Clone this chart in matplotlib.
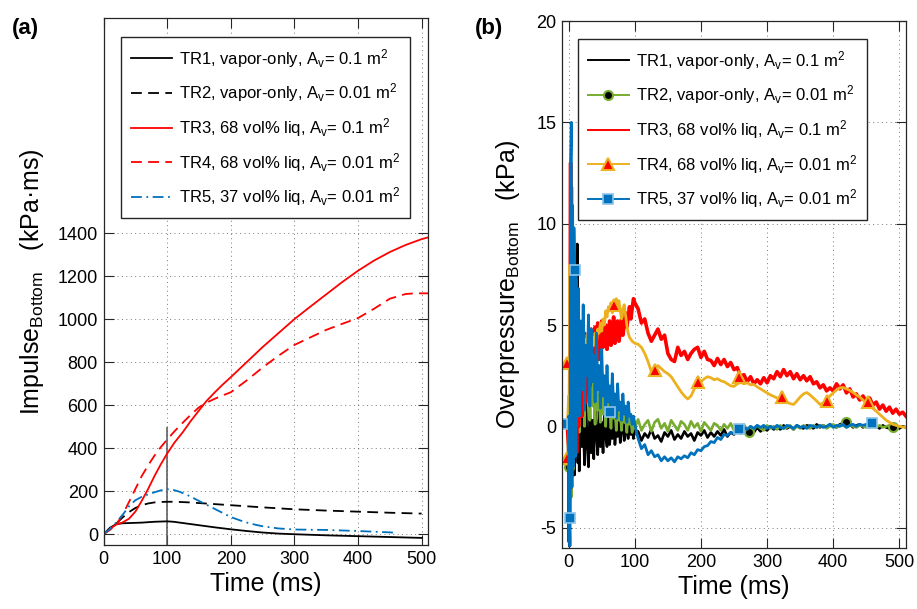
import numpy as np
import matplotlib
matplotlib.use('Agg')
import matplotlib.pyplot as plt
from matplotlib.lines import Line2D

plt.rcParams['font.family'] = ['Liberation Sans', 'DejaVu Sans']
plt.rcParams['mathtext.fontset'] = 'custom'
plt.rcParams['mathtext.rm'] = 'Liberation Sans'
plt.rcParams['mathtext.it'] = 'Liberation Sans:italic'
plt.rcParams['mathtext.bf'] = 'Liberation Sans:bold'
plt.rcParams['axes.unicode_minus'] = False

labels = [r'TR1, vapor-only, A$_\mathrm{v}$= 0.1 m$^2$',
          r'TR2, vapor-only, A$_\mathrm{v}$= 0.01 m$^2$',
          r'TR3, 68 vol% liq, A$_\mathrm{v}$= 0.1 m$^2$',
          r'TR4, 68 vol% liq, A$_\mathrm{v}$= 0.01 m$^2$',
          r'TR5, 37 vol% liq, A$_\mathrm{v}$= 0.01 m$^2$']

# ---- panel (a): impulse (kPa*ms) vs time (ms)
a1_t = [0, 10, 20, 30, 40, 50, 60, 70, 80, 90, 100, 110, 125, 150, 175, 200, 225, 250, 275, 300, 350, 400, 450, 500]
a1_v = [0, 30, 47, 51, 52, 53, 54, 56, 58, 59, 60, 58, 52, 42, 32, 23, 15, 8, 3, 0, -5, -9, -13, -17]
a2_t = [0, 10, 20, 30, 40, 50, 60, 70, 80, 90, 100, 110, 120, 135, 150, 175, 200, 250, 300, 350, 400, 450, 500]
a2_v = [0, 25, 50, 78, 103, 122, 135, 143, 148, 150, 151, 151, 150, 148, 145, 140, 135, 125, 116, 110, 105, 100, 96]
a3_t = [0, 10, 20, 30, 40, 50, 60, 70, 80, 90, 100, 112, 125, 137, 150, 162, 175, 187, 200,
        225, 250, 275, 300, 325, 350, 375, 400, 425, 450, 475, 500, 510]
a3_v = [0, 25, 45, 55, 72, 105, 155, 210, 270, 325, 375, 428, 476, 526, 575, 620, 660, 695, 730,
        800, 870, 935, 1000, 1058, 1115, 1172, 1225, 1272, 1312, 1345, 1372, 1380]
a4_t = [0, 10, 20, 30, 40, 50, 60, 70, 80, 90, 100, 112, 125, 137, 150, 162, 175, 187, 200,
        225, 250, 275, 300, 325, 350, 375, 400, 425, 450, 475, 490, 510]
a4_v = [0, 20, 45, 90, 150, 210, 270, 320, 365, 405, 440, 480, 520, 555, 590, 612, 630, 645, 660,
        715, 775, 830, 880, 915, 950, 978, 1005, 1048, 1095, 1117, 1120, 1120]
a5_t = [0, 10, 20, 30, 40, 50, 60, 70, 80, 90, 100, 110, 120, 130, 140, 150, 160, 170, 180, 190,
        200, 215, 230, 250, 275, 300, 350, 400, 455]
a5_v = [0, 25, 55, 90, 130, 158, 174, 185, 195, 204, 209, 206, 197, 185, 170, 155, 140, 125, 110, 95,
        80, 64, 50, 37, 27, 22, 20, 15, 8]
a_mark_t = 100
a_mark_top = 500

# ---- panel (b): overpressure (kPa) vs time (ms)
t_early = [-10, -2, 0, 1, 2, 3, 4, 5, 6, 7, 8, 9, 10, 11, 12, 13, 14, 15, 16,
           18, 20, 22, 24, 26, 28, 30, 32, 34, 36, 38, 40, 42, 44, 46, 48, 50,
           52, 54, 56, 58, 60, 62, 64, 66, 68, 70, 72, 74, 76, 78, 80, 82, 84,
           86, 88, 90, 92, 94, 96, 98, 100]
t_late = [105, 110, 115, 120, 125, 130, 135, 140, 145, 150, 155, 160, 165, 170,
          175, 180, 185, 190, 195, 200, 205, 210, 215, 220, 225, 230, 235, 240,
          245, 250, 255, 260, 265, 270, 275, 280, 285, 290, 295, 300, 305, 310,
          315, 320, 325, 330, 335, 340, 345, 350, 355, 360, 365, 370, 375, 380,
          385, 390, 395, 400, 405, 410, 415, 420, 425, 430, 435, 440, 445, 450,
          455, 460, 465, 470, 475, 480, 485, 490, 495, 500, 505, 510]

b1_early = [0, 0, -0.5, -5.9, 2.5, -3.0, 4.0, -2.5, 3.0, -1.2, 2.5, -2.4, 1.0, -1.5, 2.8, 9.0, -1.8, 0.6, -2.2,
            1.4, -1.0, 0.4, -1.9, 1.3, -0.8, -2.0, 0.9, -1.3, 0.3, -1.6, 1.0, -0.4, -1.4, 0.8, -1.0, 0.2,
            -1.3, 0.6, -0.5, -1.0, 0.4, -0.9, 0.1, -0.6, 0.5, -0.9, 0.0, -0.5, 0.3, -0.8, -0.1, 0.2, -0.7,
            0.1, -0.3, -0.6, 0.1, -0.4, -0.1, -0.6, -0.2]
b1_late = [-0.25, -0.7, -0.35, -0.55, -0.15, -0.6, -0.45, -0.75, -0.3, -0.5, -0.2, -0.65, -0.4, -0.6,
           -0.25, -0.5, -0.35, -0.7, -0.3, -0.45, -0.2, -0.55, -0.3, -0.5, -0.25, -0.45, -0.15, -0.5,
           -0.3, -0.4, -0.2, -0.35, -0.15, -0.3, -0.1, -0.3, -0.05, -0.25, -0.1, -0.2, 0.0, -0.15,
           -0.05, -0.15, 0.05, -0.1, 0.0, -0.15, 0.05, -0.05, -0.1, 0.05, 0.0, -0.1, 0.1, -0.05,
           0.05, -0.05, 0.1, 0.0, -0.05, 0.1, 0.15, 0.0, 0.1, -0.05, 0.05, 0.1, -0.05, 0.05,
           -0.05, 0.05, 0.0, -0.1, 0.05, -0.05, -0.1, 0.0, -0.05, -0.1, 0.0, -0.05]
b2_early = [0, 0, -2.0, 3.0, -4.8, 6.0, -3.5, 11.8, -2.0, 7.0, -1.0, 4.0, 0.5, 7.3, -0.5, 5.0, 1.5, 3.5, -0.3,
            5.0, 1.0, 3.2, 0.0, 4.2, 1.2, 2.5, 0.3, 3.4, 1.0, 2.0, 0.1, 2.8, 0.8, 1.6, 0.2, 2.3,
            0.6, 1.4, 0.0, 1.8, 0.5, 1.0, -0.1, 1.4, 0.4, 0.8, -0.2, 1.1, 0.3, 0.6, -0.2, 0.9, 0.2,
            0.5, -0.3, 0.7, 0.1, 0.3, -0.3, 0.5, -0.1]
b2_late = [0.35, -0.2, 0.1, 0.3, -0.25, 0.2, 0.35, -0.1, 0.15, -0.25, 0.3, 0.05, -0.2, 0.25,
           0.1, -0.2, 0.25, -0.05, 0.15, -0.25, 0.2, 0.0, -0.2, 0.15, 0.05, -0.2, 0.1, -0.1,
           0.15, -0.2, 0.05, -0.15, 0.1, -0.25, 0.0, -0.15, 0.05, -0.1, -0.2, 0.05, -0.1, 0.0,
           -0.15, 0.05, -0.1, -0.05, 0.05, -0.15, 0.0, -0.1, 0.05, -0.05, -0.1, 0.05, -0.05, 0.0,
           0.05, -0.1, 0.0, 0.1, -0.05, 0.05, 0.1, -0.05, 0.05, 0.0, -0.05, 0.05, 0.0, -0.05,
           0.05, 0.0, -0.05, 0.05, -0.05, 0.0, 0.05, -0.05, 0.0]
b3_early = [0, 0, -1.0, -5.7, 4.0, 13.0, -3.0, 6.5, -1.5, 3.0, 5.5, -0.5, 2.0, 5.0, -1.3, 3.5, 5.2, 0.0, 2.5,
            4.8, 0.5, 3.0, 4.6, 1.2, 2.8, 4.5, 2.0, 4.8, 3.2, 2.6, 4.9, 3.6, 5.1, 3.3, 4.6, 5.2,
            3.9, 4.4, 5.0, 3.8, 4.6, 5.2, 4.0, 4.5, 5.4, 4.1, 4.8, 5.2, 4.2, 4.6, 5.3, 4.5, 5.0,
            5.6, 4.9, 5.4, 5.9, 5.3, 5.8, 6.3, 6.1]
b3_late = [5.8, 5.1, 5.3, 4.6, 4.2, 4.5, 4.8, 4.3, 4.5, 3.6, 3.3, 3.2, 3.9, 3.5,
           3.7, 3.3, 3.6, 3.8, 3.9, 3.4, 3.7, 3.3, 3.25, 3.0, 3.35, 3.05, 3.3, 2.95,
           3.15, 2.8, 2.9, 2.45, 2.55, 2.2, 2.45, 2.1, 2.3, 2.1, 2.4, 2.15, 2.5, 2.35,
           2.7, 2.45, 2.8, 2.5, 2.7, 2.35, 2.6, 2.3, 2.5, 2.25, 2.45, 2.1, 2.2, 1.9,
           2.05, 1.75, 1.9, 1.75, 2.1, 1.85, 2.05, 1.65, 1.85, 1.45, 1.6, 1.3, 1.5, 1.2,
           1.4, 1.05, 1.2, 0.85, 1.05, 0.75, 0.95, 0.65, 0.85, 0.6, 0.7, 0.5]
b4_early = [0, 0, 1.5, -2.0, 8.0, -1.0, 7.5, 0.5, 6.5, 1.0, 6.0, 1.5, 5.8, 2.5, 5.0, 2.2, 5.4, 2.8, 4.6,
            2.6, 4.8, 3.2, 4.3, 3.0, 4.5, 3.6, 4.0, 3.4, 4.4, 4.0, 4.6, 4.1, 4.8, 4.6, 5.1, 4.7,
            5.3, 5.0, 5.7, 5.4, 5.9, 5.7, 6.1, 5.6, 6.0, 5.9, 6.3, 5.8, 6.2, 5.7, 5.3, 5.8, 6.0,
            5.5, 5.0, 4.6, 4.4, 4.3, 4.2, 4.15, 4.1]
b4_late = [4.05, 3.9, 3.6, 3.2, 2.7, 2.8, 3.0, 2.85, 2.7, 2.6, 2.45, 2.2, 1.95, 1.7,
           1.5, 1.35, 1.5, 1.85, 2.05, 2.2, 2.35, 2.45, 2.4, 2.3, 2.35, 2.25, 2.2, 2.1,
           2.0, 1.97, 2.1, 2.17, 2.1, 2.15, 2.05, 2.07, 1.95, 1.85, 1.75, 1.65, 1.55, 1.48,
           1.4, 1.35, 1.3, 1.2, 1.12, 1.08, 1.25, 1.45, 1.6, 1.67, 1.55, 1.4, 1.25, 1.08,
           1.15, 1.3, 1.5, 1.65, 1.8, 1.9, 1.92, 1.85, 1.78, 1.67, 1.55, 1.45, 1.3, 1.15,
           1.0, 0.88, 0.75, 0.6, 0.45, 0.3, 0.2, 0.1, 0.05, 0.0, -0.03, -0.05]
b5_early = [0.1, 0.1, 0.5, -4.5, -5.9, 13.2, 15.0, -3.0, 10.9, -2.0, 9.8, 7.7, -1.5, 7.9, 0.0, 6.5, 2.5, 6.8, 0.5,
            5.2, 1.8, 6.0, 0.8, 4.0, 2.5, 5.5, 1.0, 4.8, 2.2, 3.5, 1.2, 4.6, 1.8, 3.0, 0.9, 3.8,
            1.5, 2.5, 0.8, 3.0, 1.2, 2.0, 0.5, 2.6, 1.0, 1.6, 0.4, 2.1, 0.8, 1.2, 0.3, 1.6, 0.6,
            1.0, 0.2, 1.2, 0.5, 0.6, 0.1, 0.5, 0.1]
b5_late = [-0.6, -1.1, -0.9, -1.4, -1.2, -1.5, -1.4, -1.7, -1.5, -1.7, -1.55, -1.75, -1.5, -1.6,
           -1.45, -1.55, -1.3, -1.4, -1.15, -1.2, -1.0, -0.95, -0.75, -0.8, -0.55, -0.65, -0.4, -0.45,
           -0.3, -0.35, -0.15, -0.25, -0.05, -0.15, 0.0, -0.1, 0.05, -0.05, 0.05, -0.1, 0.0, -0.1,
           0.05, -0.05, -0.1, 0.05, 0.0, -0.1, 0.05, -0.05, 0.0, -0.1, 0.05, 0.0, -0.05, 0.05,
           -0.05, 0.0, 0.1, -0.05, 0.05, 0.0, 0.1, -0.05, 0.05, 0.1, 0.0, 0.1, 0.05, 0.1,
           0.1, 0.05]

# marker positions
b2_mark_t = [0, 273, 420, 490]
b2_mark_v = [-2.0, -0.3, 0.2, -0.05]
b4_mark_t = [-3, -3, 68, 131, 196, 258, 323, 390, 452]
b4_mark_v = [3.15, -1.55, 6.0, 2.8, 2.17, 2.46, 1.43, 1.23, 1.18]
b5_mark_t = [-10, 1.5, 9, 62, 258, 458]
b5_mark_v = [0.1, -4.5, 7.7, 0.7, -0.15, 0.15]

c_green = '#77AC30'
c_orange = '#EDB120'
c_blue = '#0072BD'
c_red = '#FF0000'

fig = plt.figure(figsize=(9.17, 6.09), dpi=100)
ax1 = fig.add_axes([0.1129, 0.1051, 0.3538, 0.8653])
ax2 = fig.add_axes([0.6129, 0.1002, 0.3751, 0.8653])


def style(ax):
    ax.set_axisbelow(True)
    ax.grid(True, linestyle=(0, (1, 3.5)), color='#404040', linewidth=0.7, alpha=0.7)
    ax.tick_params(direction='in', length=7, width=0.8, top=True, right=True,
                   labelsize=13, color='#262626', labelcolor='black', pad=4)
    for s in ax.spines.values():
        s.set_color('#262626')
        s.set_linewidth(0.9)


legend_kw = dict(loc='upper left', borderaxespad=0, fontsize=12, fancybox=False,
                 edgecolor='#262626', framealpha=1, handlelength=2.45,
                 labelspacing=0.7, borderpad=0.6, handletextpad=0.4)

# panel (a)
style(ax1)
ax1.vlines(a_mark_t, -50, a_mark_top, color='#555555', linewidth=1.1)
ax1.plot(a1_t, a1_v, color='black', lw=1.3, label=labels[0])
ax1.plot(a2_t, a2_v, color='black', lw=1.3, dashes=(6, 3.5), label=labels[1])
ax1.plot(a3_t, a3_v, color=c_red, lw=1.3, label=labels[2])
ax1.plot(a4_t, a4_v, color=c_red, lw=1.3, dashes=(6, 3.5), label=labels[3])
ax1.plot(a5_t, a5_v, color=c_blue, lw=1.3, dashes=(6, 2.5, 1, 2.5), label=labels[4])
ax1.set_xlim(0, 510)
ax1.set_ylim(-50, 2400)
ax1.set_xticks([0, 100, 200, 300, 400, 500])
ax1.set_yticks([0, 200, 400, 600, 800, 1000, 1200, 1400])
ax1.set_xlabel('Time (ms)', fontsize=18, labelpad=3)
ax1.set_ylabel(r'Impulse$_\mathrm{Bottom}$   (kPa·ms)', fontsize=18, labelpad=8)
leg1 = ax1.legend(bbox_to_anchor=(0.054, 0.964), **legend_kw)
leg1.get_frame().set_linewidth(1.0)

# panel (b)
style(ax2)
ax2.plot(t_early + t_late, b1_early + b1_late, color='black', lw=1.9)
ax2.plot(t_early + t_late[:79], b2_early + b2_late, color=c_green, lw=1.9)
ax2.plot(b2_mark_t, b2_mark_v, ls='none', marker='o', ms=6.5, mfc='black', mec=c_green, mew=1.5)
ax2.plot(t_early + t_late, b3_early + b3_late, color=c_red, lw=2.6)
ax2.plot(t_early + t_late, b4_early + b4_late, color=c_orange, lw=2.0)
ax2.plot(b4_mark_t, b4_mark_v, ls='none', marker='^', ms=9, mfc=c_red, mec=c_orange, mew=1.5)
ax2.plot(t_early + t_late[:72], b5_early + b5_late, color=c_blue, lw=2.0)
ax2.plot(b5_mark_t, b5_mark_v, ls='none', marker='s', ms=6.5, mfc=c_blue, mec='#8cc4ea', mew=1.2)
ax2.set_xlim(-10, 510)
ax2.set_ylim(-6, 20)
ax2.set_xticks([0, 100, 200, 300, 400, 500])
ax2.set_yticks([-5, 0, 5, 10, 15, 20])
ax2.set_xlabel('Time (ms)', fontsize=18, labelpad=3)
ax2.set_ylabel(r'Overpressure$_\mathrm{Bottom}$   (kPa)', fontsize=18, labelpad=10)

handles = [Line2D([], [], color='black', lw=1.4),
           Line2D([], [], color=c_green, lw=1.4, marker='o', ms=6.5, mfc='black', mec=c_green, mew=1.5),
           Line2D([], [], color=c_red, lw=1.4),
           Line2D([], [], color=c_orange, lw=1.4, marker='^', ms=9, mfc=c_red, mec=c_orange, mew=1.5),
           Line2D([], [], color=c_blue, lw=1.4, marker='s', ms=6.5, mfc=c_blue, mec='#8cc4ea', mew=1.2)]
leg2 = ax2.legend(handles, labels, bbox_to_anchor=(0.0465, 0.966), **legend_kw)
leg2.get_frame().set_linewidth(1.0)

fig.text(0.013, 0.954, '(a)', fontsize=16, fontweight='bold', va='center')
fig.text(0.518, 0.954, '(b)', fontsize=16, fontweight='bold', va='center')

fig.savefig('out.png', dpi=100)
